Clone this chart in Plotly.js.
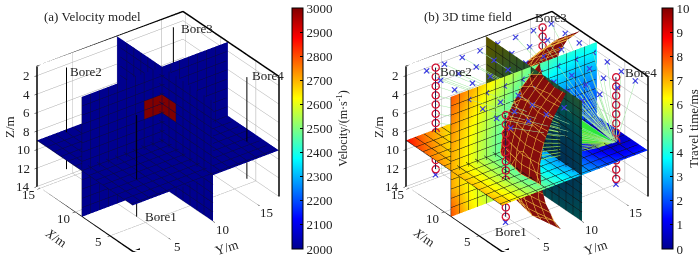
<!DOCTYPE html>
<html><head><meta charset="utf-8">
<script src="https://cdn.plot.ly/plotly-3.0.1.min.js"></script>
<style>html,body{margin:0;padding:0;background:#fff}#c{width:700px;height:258px}</style>
</head><body><div id="c"></div>
<script>
// ---------- data ----------
const xRange=[1.7,15.4], yRange=[1,17.4], zRange=[1,14];
const zTicks=[2,4,6,8,10,12,14], xyTicks=[5,10,15];
const planeX=9, planeY=10, planeZ=9;
const boreNames=['Bore1','Bore2','Bore3','Bore4'];
const boreX=[5,15,15,4.5], boreY=[4,4,16,16];
const boreDepths=[2,3,4,5,6,7,8,9,10,11,12,13];
const rayDepths=[3.5,4,4.5,5,5.5,6,6.5,7,7.5,8];
const rayStopY=[7.8,7.5,7.24,7.01,6.82,6.65,6.51,6.4,6.35,6.3];
const source=[4.5,16,9.2];
const fanEndY=10.05, fanEndX=5, fanEndDepths=[3,7.3];
const sourceClusterX=[4.5,4,5,4.5,4.1,4.9], sourceClusterY=[16,16,16,16,16,16], sourceClusterZ=[8.9,9.3,9.3,9.6,9.8,9.8];
const starX=[15,13,11,9,7,5,3], starY=[3,5,7,9,11,13,15,17], starZ=2;

// velocity model nodes
const vY=[1,7.98,8,10,10.02,17.4], vX=[1.7,6.98,7,9,9.02,15.4], vZ=[1,3.98,4,6,6.02,14];
const vSliceA=[[2000,2000,2000,2000,2000,2000],[2000,2000,2000,2000,2000,2000],[2000,2000,3000,3000,2000,2000],[2000,2000,3000,3000,2000,2000],[2000,2000,2000,2000,2000,2000],[2000,2000,2000,2000,2000,2000]];
const vSliceB=vSliceA;
const vFlat=[[2000,2000],[2000,2000]];

// time field nodes
const tY=[1,3,5,7,9,11,13,15,17.4];
const tX=[1.7,4,6,8,10,12,14,15.4];
const tZ=[1,3,5,7,9,11,13,14];
const timeAtZ9=[
[6.98,6.10,5.22,4.36,3.52,2.72,2.03,1.57,1.63],
[6.83,5.93,5.02,4.12,3.21,2.32,1.44,0.64,0.78],
[6.83,5.93,5.02,4.12,3.21,2.32,1.44,0.64,0.78],
[6.95,6.06,5.18,4.31,3.46,2.65,1.93,1.44,1.50],
[7.19,6.33,5.49,4.68,3.91,3.21,2.65,2.32,2.36],
[7.52,6.71,5.93,5.18,4.50,3.91,3.46,3.21,3.25],
[8.20,7.19,6.46,5.79,5.18,4.68,4.31,4.12,4.14],
[8.70,7.57,6.88,6.25,5.70,5.24,4.92,4.75,4.77]];
const timeAtX9=[
[7.94,7.17,6.44,5.77,5.16,4.66,4.29,4.09,4.12],
[7.57,6.76,5.98,5.24,4.57,3.99,3.55,3.31,3.34],
[7.29,6.44,5.62,4.83,4.09,3.43,2.91,2.61,2.65],
[7.11,6.25,5.40,4.57,3.78,3.05,2.45,2.08,2.13],
[7.06,6.18,5.32,4.48,3.66,2.91,2.27,1.87,1.93],
[7.11,6.25,5.40,4.57,3.78,3.05,2.45,2.08,2.13],
[7.80,6.44,5.62,4.83,4.09,3.43,2.91,2.61,2.65],
[8.00,6.59,5.79,5.02,4.31,3.69,3.21,2.95,2.98]];
const timeAtY10=[
[4.79,4.57,4.57,4.75,5.08,5.55,6.11,6.56],
[4.14,3.88,3.88,4.09,4.48,5.00,5.62,6.10],
[3.60,3.31,3.31,3.55,3.99,4.57,5.24,5.75],
[3.24,2.91,2.91,3.18,3.66,4.29,5.00,5.53],
[3.11,2.76,2.76,3.05,3.55,4.19,4.92,5.45],
[3.24,2.91,2.91,3.18,3.66,4.29,5.00,5.53],
[3.60,3.31,3.31,3.55,3.99,4.57,5.24,5.75],
[3.85,3.58,3.58,3.80,4.22,4.77,5.42,5.91]];

// wavefront nodes (row per depth)
const frontZ=[1,3,5,7,9,11,13,14];
const frontX=[
[3.6,5,7.22,9.17,10.62,11.39,11.33],
[3.2,5,7.86,10.38,12.25,13.24,13.25],
[3.0,5,8.25,11.10,13.22,14.35,14.39],
[2.8,5,8.45,11.49,13.75,14.95,15.0],
[2.5,5,8.52,11.62,13.92,15.15,15.2],
[2.2,5,8.45,11.49,13.75,14.95,15.0],
[1.9,5,8.25,11.10,13.22,14.35,14.39],
[1.7,5,8.08,10.79,12.79,13.87,13.89]];
const frontY=[
[9.67,9.51,9.90,11.03,12.76,14.87,17.4],
[7.83,7.63,8.13,9.59,11.82,14.54,17.4],
[6.73,6.51,7.08,8.73,11.26,14.35,17.4],
[6.14,5.90,6.51,8.26,10.95,14.24,17.4],
[6.01,5.70,6.32,8.11,10.85,14.21,17.4],
[6.30,5.90,6.51,8.26,10.95,14.24,17.4],
[7.03,6.51,7.08,8.73,11.26,14.35,17.4],
[7.63,7.00,7.54,9.11,11.50,14.43,17.4]];

// ---------- styles ----------
const FONT='"Liberation Serif","Times New Roman",serif';
const W=700,H=258;
const jet=[[0,'#00008f'],[0.125,'#0000ff'],[0.375,'#00ffff'],[0.625,'#ffff00'],[0.875,'#ff0000'],[1,'#800000']];
const darkJet=[[0,'#00003a'],[0.125,'#00005a'],[0.375,'#005050'],[0.625,'#585800'],[0.875,'#600000'],[1,'#350000']];
const flat={ambient:1,diffuse:0,specular:0,roughness:1,fresnel:0};
const GRIDA='#0a0a40', GRIDB='#101010', MESH='#f8c840';
const TXT={family:FONT,size:13,color:'#222'};

const neg=a=>a.map(v=>-v);
const rep=(v,r,c)=>Array.from({length:r},()=>Array(c).fill(v));
function cont(axes,color,width){
  const c={};
  const lim={x:yRange,y:xRange,z:[-14,-1]};
  for(const k of axes){
    const s=Math.ceil(lim[k][0]), e=Math.floor(lim[k][1]);
    c[k]={show:true,start:s,end:e,size:1,color:color,width:width||1,highlight:false};
  }
  for(const k of ['x','y','z']) if(!c[k]) c[k]={show:false,highlight:false};
  return c;
}
function sliceZ(xn,yn,zv,vals,cmin,cmax,scene,cs,color){
  return {type:'surface',scene,x:yn,y:xn,z:rep(-zv,xn.length,yn.length),surfacecolor:vals,cmin,cmax,colorscale:cs,showscale:false,lighting:flat,hoverinfo:'skip',contours:cont(['x','y'],color)};
}
function sliceX(xv,yn,zn,vals,cmin,cmax,scene,cs,color){
  const xm=zn.map(()=>yn.slice()), ym=rep(xv,zn.length,yn.length), zm=zn.map(z=>yn.map(()=>-z));
  return {type:'surface',scene,x:xm,y:ym,z:zm,surfacecolor:vals,cmin,cmax,colorscale:cs,showscale:false,lighting:flat,hoverinfo:'skip',contours:cont(['x','z'],color)};
}
function sliceY(yv,xn,zn,vals,cmin,cmax,scene,cs,color){
  const xm=rep(yv,zn.length,xn.length), ym=zn.map(()=>xn.slice()), zm=zn.map(z=>xn.map(()=>-z));
  return {type:'surface',scene,x:xm,y:ym,z:zm,surfacecolor:vals,cmin,cmax,colorscale:cs,showscale:false,lighting:flat,hoverinfo:'skip',contours:cont(['y','z'],color)};
}
function line3(scene,x,y,z,color,width){
  return {type:'scatter3d',mode:'lines',scene,x,y,z,line:{color,width},hoverinfo:'skip',showlegend:false};
}
function boxEdges(scene){
  const [x0,x1]=xRange,[y0,y1]=yRange,zt=-zRange[0],zb=-zRange[1];
  const px=[y0,y1,null,y0,y0,null,y0,y0,y1,y1,null,y1,y1,null,y0,y0];
  const py=[x0,x0,null,x0,x1,null,x1,x1,x1,x0,null,x0,x0,null,x1,x1];
  const pz=[zb,zb,null,zb,zb,null,zb,zt,zt,zt,null,zt,zb,null,zt,zt];
  return line3(scene,px,py,pz,'#000',3);
}
function colorbarCfg(px,title,dtick,size){
  return {x:px/W,xanchor:'left',y:(H-128.5)/H,yanchor:'middle',thicknessmode:'pixels',thickness:11,lenmode:'pixels',len:241,xpad:0,ypad:0,
    outlinecolor:'#000',outlinewidth:1,ticks:'inside',ticklen:3,tickcolor:'#000',dtick,tickfont:TXT,
    title:{text:title,side:'right',font:{family:FONT,size:size,color:'#222'}}};
}
function axis(tickvals,range){
  return {title:{text:''},range,tickvals,showticklabels:false,
    showbackground:false,showgrid:true,gridcolor:'#a8a8a8',gridwidth:1,zeroline:false,showline:false,ticks:'outside',ticklen:3,tickcolor:'#000',showspikes:false,autorange:false};
}

// ---------- panel (a) ----------
const traces=[];
traces.push(sliceZ([xRange[0],xRange[1]],[yRange[0],yRange[1]],planeZ,vFlat,2000,3000,'scene',jet,GRIDA));
const vA=sliceX(planeX,vY,vZ,vSliceA,2000,3000,'scene',jet,GRIDA);
vA.showscale=true; vA.colorbar=colorbarCfg(292,'Velocity/(m·s<sup>-1</sup>)',100,12);
traces.push(vA);
traces.push(sliceY(planeY,vX,vZ,vSliceB,2000,3000,'scene',jet,GRIDA));
boreX.forEach((bx,i)=>{
  traces.push(line3('scene',boreDepths.map(()=>boreY[i]),boreDepths.map(()=>bx),neg(boreDepths),'#000',2));
});
traces.push(boxEdges('scene'));

// ---------- panel (b) ----------
traces.push(sliceZ(tX,tY,planeZ,timeAtZ9,0,10,'scene2',jet,GRIDB));
const tA=sliceX(planeX,tY,tZ,timeAtX9,0,10,'scene2',jet,GRIDB);
tA.showscale=true; tA.colorbar=colorbarCfg(662,'Travel time/ms',1,13);
traces.push(tA);
traces.push(sliceY(planeY,tX,tZ,timeAtY10,0,10,'scene2',darkJet,GRIDB));
traces.push({type:'surface',scene:'scene2',x:frontY,y:frontX,z:frontX.map((r,i)=>r.map(()=>-frontZ[i])),
  surfacecolor:rep(9.5,frontX.length,frontX[0].length),cmin:0,cmax:10,colorscale:[[0,'#850d0d'],[1,'#850d0d']],showscale:false,lighting:flat,hoverinfo:'skip',
  contours:cont(['x','y','z'],MESH,2)});
traces.push(boxEdges('scene2'));

// rays
function rays(targets){
  const x=[],y=[],z=[];
  targets.forEach(t=>{x.push(source[1],t[1],null);y.push(source[0],t[0],null);z.push(-source[2],-t[2],null);});
  return [x,y,z];
}
const paleTargets=[];
starX.forEach(sx=>starY.forEach(sy=>paleTargets.push([sx,sy,starZ])));
boreDepths.forEach(d=>{paleTargets.push([boreX[1],boreY[1],d]);});
const pale=rays(paleTargets);
traces.push(line3('scene2',pale[0],pale[1],pale[2],'#a4e8a4',1));
const brightTargets=rayDepths.map((d,i)=>[boreX[0],rayStopY[i],d]);
const bright=rays(brightTargets);
traces.push(line3('scene2',bright[0],bright[1],bright[2],'#9adf50',1.5));
// dense ray fan between the source and the Y=10 slice
traces.push({type:'surface',scene:'scene2',
  x:[[source[1],fanEndY],[source[1],fanEndY]],
  y:[[source[0],fanEndX],[source[0],fanEndX]],
  z:[[-source[2],-fanEndDepths[0]],[-source[2],-fanEndDepths[1]]],
  surfacecolor:[[0,1],[0,1]],cmin:0,cmax:1,colorscale:[[0,'#10e040'],[1,'#50f030']],showscale:false,lighting:flat,hoverinfo:'skip'});

// bores with receivers
const STAR=1.3;
boreX.forEach((bx,i)=>{
  const bxa=boreDepths.map(()=>boreY[i]), bya=boreDepths.map(()=>bx), bza=neg(boreDepths);
  traces.push(line3('scene2',bxa,bya,bza,'#1a1a50',2));
  traces.push({type:'scatter3d',mode:'markers',scene:'scene2',x:bxa,y:bya,z:bza,hoverinfo:'skip',
    marker:{symbol:'circle-open',size:4.5,color:'#d01030',line:{color:'#d01030',width:1.5}}});
  ['x','cross'].forEach(sym=>traces.push({type:'scatter3d',mode:'markers',scene:'scene2',x:[boreY[i]],y:[bx],z:[-boreDepths[boreDepths.length-1]-0.6],hoverinfo:'skip',
    marker:{symbol:sym,size:STAR,color:'#3030e0'}}));
});
traces.push({type:'scatter3d',mode:'markers',scene:'scene2',x:sourceClusterY,y:sourceClusterX,z:neg(sourceClusterZ),hoverinfo:'skip',
  marker:{symbol:'circle-open',size:4.5,color:'#d01030',line:{color:'#d01030',width:1.5}}});
// surface stars
const sx=[],sy=[],sz=[];
starX.forEach(a=>starY.forEach(b=>{sx.push(b);sy.push(a);sz.push(-starZ);}));
['x','cross'].forEach(sym=>traces.push({type:'scatter3d',mode:'markers',scene:'scene2',x:sx,y:sy,z:sz,hoverinfo:'skip',marker:{symbol:sym,size:STAR,color:'#3a3ae0'}}));
traces.forEach(t=>t.showlegend=false);

// ---------- layout ----------
const L=2.0, el=[-0.516,-0.692,0.505];
function tickAnn(x,y,z,text,xshift,yshift,xanchor){
  return {x,y,z,text,showarrow:false,xshift,yshift,xanchor:xanchor||'center',yanchor:'middle',font:TXT};
}
function tickAnnotations(){
  const a=[];
  zTicks.forEach(t=>a.push(tickAnn(yRange[0],xRange[1],-t,String(t),-5,0,'right')));
  xyTicks.forEach(t=>a.push(tickAnn(yRange[0],t,-zRange[1],String(t),-11,-6)));
  xyTicks.forEach(t=>a.push(tickAnn(t,xRange[0],-zRange[1],String(t),9,-8)));
  return a;
}
function scene(x0,x1){
  return {domain:{x:[x0/W,x1/W],y:[0,253/258]},aspectmode:'manual',aspectratio:{x:1.44,y:1.27,z:1.10},
    camera:{eye:{x:el[0]*L,y:el[1]*L,z:el[2]*L},center:{x:0,y:0,z:0},up:{x:0,y:0,z:1},projection:{type:'orthographic'}},
    xaxis:axis(xyTicks,yRange),
    yaxis:axis(xyTicks,xRange),
    zaxis:axis(neg(zTicks),[-zRange[1],-zRange[0]]),
    annotations:tickAnnotations(),
    bgcolor:'rgba(0,0,0,0)'};
}
const labelA=[[143,216],[68,71],[179,29],[250,75]];
const labelB=[[493,231],[438,71],[533,17],[623,72]];
function ann(text,px,py,angle,anchor){
  return {xref:'paper',yref:'paper',x:px/W,y:1-py/H,xanchor:anchor||'left',yanchor:'middle',text,textangle:angle||0,showarrow:false,font:TXT};
}
const annotations=[ann('(a) Velocity model',42,16),ann('(b) 3D time field',422,16)];
boreNames.forEach((n,i)=>{annotations.push(ann(n,labelA[i][0],labelA[i][1]));annotations.push(ann(n,labelB[i][0],labelB[i][1]));});
[0,369].forEach(dx=>{
  annotations.push(ann('Z/m',9+dx,127,-90,'center'));
  annotations.push(ann('<i>X</i>/m',56+dx,237,35,'center'));
  annotations.push(ann('Y/m',226+dx,247,-18,'center'));
});
const layout={width:W,height:H,margin:{l:0,r:0,t:0,b:0,autoexpand:false},paper_bgcolor:'#fff',showlegend:false,
  font:TXT,scene:scene(0,316),scene2:scene(369,685),annotations};
Plotly.newPlot('c',traces,layout,{displayModeBar:false,staticPlot:false,responsive:false});
</script></body></html>
